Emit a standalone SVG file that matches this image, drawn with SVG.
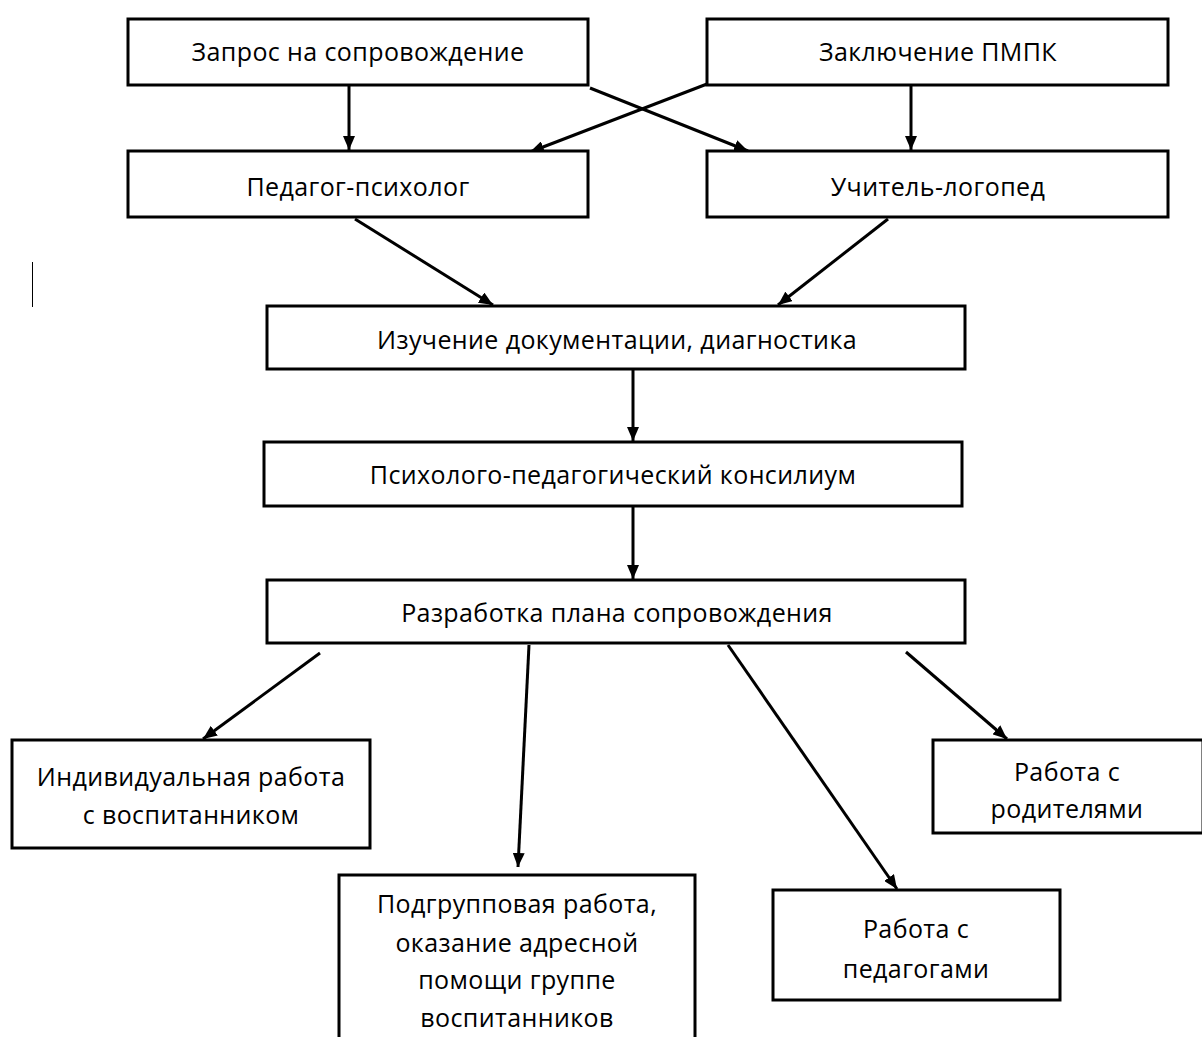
<svg xmlns="http://www.w3.org/2000/svg" width="1202" height="1037" viewBox="0 0 1202 1037">
<style>
.b{fill:#fff;stroke:#000;stroke-width:3}
.t{font-family:"Open Sans","Liberation Sans",sans-serif;font-size:25px;letter-spacing:0.4px;fill:#000;text-anchor:middle}
.c line{stroke:#000;stroke-width:3;marker-end:url(#ah)}
</style>
<defs>
<marker id="ah" viewBox="0 0 14 12" refX="14" refY="6" markerWidth="14" markerHeight="12" markerUnits="userSpaceOnUse" orient="auto">
<path d="M0,0L14,6L0,12z" fill="#000"/>
</marker>
</defs>
<rect width="1202" height="1037" fill="#fff"/>
<line x1="32.5" y1="262" x2="32.5" y2="307" stroke="#000" stroke-width="1"/>
<g class="c">
<line x1="349" y1="86" x2="349" y2="150"/>
<line x1="911" y1="86" x2="911" y2="150"/>
<line x1="590" y1="88" x2="748" y2="151"/>
<line x1="707" y1="84" x2="530" y2="152"/>
<line x1="355" y1="219" x2="493" y2="305"/>
<line x1="888" y1="219" x2="778" y2="305"/>
<line x1="633" y1="370" x2="633" y2="441"/>
<line x1="633" y1="507" x2="633" y2="579"/>
<line x1="320" y1="653" x2="203" y2="739"/>
<line x1="529" y1="645" x2="518" y2="867"/>
<line x1="728" y1="645" x2="897" y2="889"/>
<line x1="906" y1="652" x2="1007" y2="739"/>
</g>
<g id="n1"><rect class="b" x="128" y="19" width="460" height="66"/><text class="t" x="358" y="61">Запрос на сопровождение</text></g>
<g id="n2"><rect class="b" x="707" y="19" width="461" height="66"/><text class="t" x="938" y="61">Заключение ПМПК</text></g>
<g id="n3"><rect class="b" x="128" y="151" width="460" height="66"/><text class="t" x="358" y="196">Педагог-психолог</text></g>
<g id="n4"><rect class="b" x="707" y="151" width="461" height="66"/><text class="t" x="938" y="196">Учитель-логопед</text></g>
<g id="n5"><rect class="b" x="267" y="306" width="698" height="63"/><text class="t" x="617" y="349">Изучение документации, диагностика</text></g>
<g id="n6"><rect class="b" x="264" y="442" width="698" height="64"/><text class="t" x="613" y="484">Психолого-педагогический консилиум</text></g>
<g id="n7"><rect class="b" x="267" y="580" width="698" height="63"/><text class="t" x="617" y="622">Разработка плана сопровождения</text></g>
<g id="n8"><rect class="b" x="12" y="740" width="358" height="108"/><text class="t" x="191" y="786">Индивидуальная работа</text><text class="t" x="191" y="824">с воспитанником</text></g>
<g id="n9"><rect class="b" x="339" y="875" width="356" height="170"/><text class="t" x="517" y="913">Подгрупповая работа,</text><text class="t" x="517" y="952">оказание адресной</text><text class="t" x="517" y="989">помощи группе</text><text class="t" x="517" y="1027">воспитанников</text></g>
<g id="n10"><rect class="b" x="773" y="890" width="287" height="110"/><text class="t" x="916" y="938">Работа с</text><text class="t" x="916" y="978">педагогами</text></g>
<g id="n11"><rect class="b" x="933" y="740" width="270" height="93"/><text class="t" x="1067" y="781">Работа с</text><text class="t" x="1067" y="818">родителями</text></g>
</svg>
